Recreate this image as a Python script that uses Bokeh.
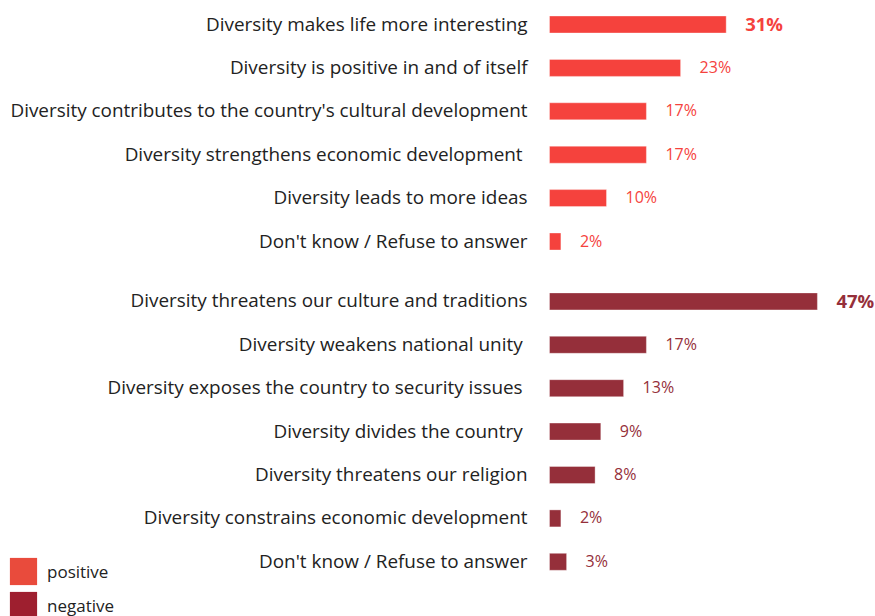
from bokeh.plotting import figure
from bokeh.models import ColumnDataSource, Range1d, Legend, LegendItem
from bokeh.core.properties import value
from bokeh.embed import file_html
from bokeh.resources import INLINE

# ---- data ----
categories_pos = [
    "Diversity makes life more interesting",
    "Diversity is positive in and of itself",
    "Diversity contributes to the country's cultural development",
    "Diversity strengthens economic development ",
    "Diversity leads to more ideas",
    "Don't know / Refuse to answer",
]
values_pos = [31, 23, 17, 17, 10, 2]

categories_neg = [
    "Diversity threatens our culture and traditions",
    "Diversity weakens national unity ",
    "Diversity exposes the country to security issues ",
    "Diversity divides the country ",
    "Diversity threatens our religion",
    "Diversity constrains economic development",
    "Don't know / Refuse to answer",
]
values_neg = [47, 17, 13, 9, 8, 2, 3]

legend_labels = ["positive", "negative"]

# ---- style ----
POS_COLOR = "#F5423D"
NEG_COLOR = "#952F3A"
LEG_POS = "#E94B3C"
LEG_NEG = "#9E1F2F"
FONT = "Open Sans"
PX_PER_UNIT = 5.70      # pixels per percentage point
ZERO_X = 549            # pixel of the bars' base
ROW0 = 24               # pixel centre of first row
ROW_STEP = 43.4         # pixel distance between rows
GROUP_GAP = 0.38        # extra row units between the two groups
W, H = 875, 616

def make_source(cats, vals, start, color):
    ys = [start + i for i in range(len(cats))]
    mx = max(vals)
    return ColumnDataSource(dict(
        y=ys, v=vals, cat=cats,
        lbl=[f"{v}%" for v in vals],
        style=["bold" if v == mx else "normal" for v in vals],
        size=["18.5px" if v == mx else "16px" for v in vals],
        color=[color] * len(cats),
    ))

src_pos = make_source(categories_pos, values_pos, 0, POS_COLOR)
src_neg = make_source(categories_neg, values_neg, len(categories_pos) + GROUP_GAP, NEG_COLOR)

p = figure(width=W, height=H, output_backend="svg", toolbar_location=None,
           x_axis_location=None, y_axis_location=None, min_border=0)
p.x_range = Range1d(-ZERO_X / PX_PER_UNIT, (W - ZERO_X) / PX_PER_UNIT)
p.y_range = Range1d((H - ROW0) / ROW_STEP, -ROW0 / ROW_STEP)
p.grid.visible = False
p.outline_line_color = None
p.background_fill_color = "white"
p.border_fill_color = "white"

bar_h = 17 / ROW_STEP
for src in (src_pos, src_neg):
    p.hbar(y="y", left=0, right="v", height=bar_h, source=src,
           fill_color="color", line_color="white", line_alpha=0.35, line_width=1)
    p.text(x=0, y="y", text="cat", source=src, x_offset=-22, y_offset=-1,
           text_align="right", text_baseline="middle",
           text_font=value(FONT), text_font_size="18.9px", text_color="#222222")
    p.text(x="v", y="y", text="lbl", source=src, x_offset=19, y_offset=-1,
           text_align="left", text_baseline="middle",
           text_font=value(FONT), text_font_size="size",
           text_font_style="style", text_color="color")

# legend-only renderers (their single point is NaN, so nothing is drawn on the plot)
nan = float("nan")
r_pos = p.vbar(x=[nan], top=[nan], width=1, fill_color=LEG_POS, line_color=None)
r_neg = p.vbar(x=[nan], top=[nan], width=1, fill_color=LEG_NEG, line_color=None)
legend = Legend(items=[LegendItem(label=legend_labels[0], renderers=[r_pos]),
                       LegendItem(label=legend_labels[1], renderers=[r_neg])],
                location=(6, -6), orientation="vertical",
                glyph_width=34, glyph_height=34, label_standoff=7,
                spacing=0, padding=0, margin=0,
                label_text_font=FONT, label_text_font_size="17px",
                label_text_color="#222222",
                border_line_alpha=0, background_fill_alpha=0)
p.add_layout(legend)

open("out.html", "w").write(file_html(p, INLINE))
